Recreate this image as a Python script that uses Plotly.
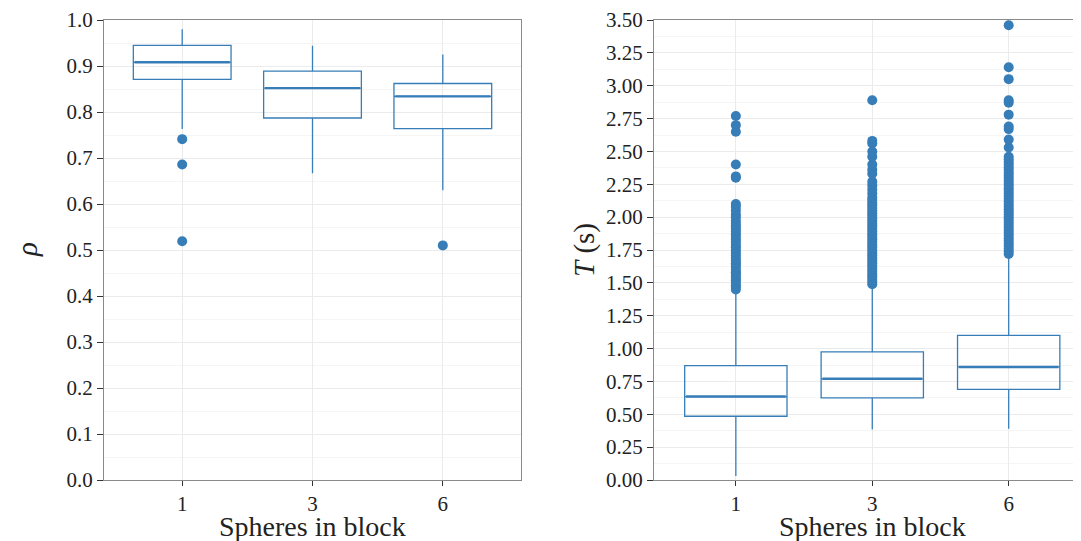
import plotly.graph_objects as go

categories = ["1", "3", "6"]

# Left panel: rho
rho_q1 = [0.871, 0.787, 0.764]
rho_median = [0.908, 0.852, 0.834]
rho_q3 = [0.945, 0.889, 0.862]
rho_lower = [0.763, 0.667, 0.630]
rho_upper = [0.980, 0.944, 0.925]
rho_out_1 = [0.741, 0.686, 0.519]
rho_out_3 = []
rho_out_6 = [0.510]

# Right panel: T (s)
t_q1 = [0.485, 0.625, 0.690]
t_median = [0.635, 0.770, 0.860]
t_q3 = [0.870, 0.975, 1.100]
t_lower = [0.030, 0.385, 0.390]
t_upper = [1.440, 1.480, 1.710]
t_out_1 = [1.45, 1.47, 1.48, 1.50, 1.52, 1.53, 1.55, 1.57, 1.58, 1.60, 1.62, 1.64,
           1.65, 1.67, 1.69, 1.71, 1.73, 1.75, 1.77, 1.79, 1.81, 1.83, 1.85, 1.87,
           1.89, 1.91, 1.93, 1.95, 1.97, 2.00, 2.02, 2.05, 2.08, 2.10, 2.30, 2.31,
           2.40, 2.65, 2.70, 2.77]
t_out_3 = [1.49, 1.51, 1.53, 1.55, 1.57, 1.59, 1.61, 1.63, 1.65, 1.67, 1.69, 1.71,
           1.73, 1.75, 1.77, 1.79, 1.81, 1.83, 1.85, 1.87, 1.89, 1.91, 1.93, 1.95,
           1.97, 1.99, 2.01, 2.03, 2.05, 2.07, 2.09, 2.11, 2.13, 2.15, 2.18, 2.21,
           2.24, 2.27, 2.33, 2.36, 2.40, 2.46, 2.50, 2.56, 2.58, 2.89]
t_out_6 = [1.72, 1.74, 1.76, 1.78, 1.80, 1.82, 1.84, 1.86, 1.88, 1.90, 1.92, 1.94,
           1.96, 1.98, 2.00, 2.02, 2.04, 2.06, 2.08, 2.10, 2.12, 2.14, 2.16, 2.18,
           2.20, 2.22, 2.24, 2.26, 2.28, 2.30, 2.32, 2.34, 2.36, 2.38, 2.40, 2.42,
           2.44, 2.46, 2.53, 2.59, 2.67, 2.69, 2.78, 2.87, 2.89, 3.05, 3.14, 3.46]

x_title = "Spheres in block"
y_title_left = "<i>ρ</i>"
y_title_right = "<i>T</i> (s)"

BLUE = "#377eb8"
FONT = "Liberation Serif"

fig = go.Figure()

def add_panel(q1, med, q3, lo, hi, outs, xa, ya):
    fig.add_trace(go.Box(
        x=categories, q1=q1, median=med, q3=q3, lowerfence=lo, upperfence=hi,
        fillcolor="rgba(255,255,255,0)", line=dict(color=BLUE, width=1.3),
        whiskerwidth=0, width=0.75, boxpoints=False, showlegend=False,
        xaxis=xa, yaxis=ya, hoverinfo="skip"))
    # thicker median line
    fig.add_trace(go.Box(
        x=categories, q1=med, median=med, q3=med, lowerfence=med, upperfence=med,
        fillcolor="rgba(255,255,255,0)", line=dict(color=BLUE, width=2.4),
        whiskerwidth=0, width=0.73, boxpoints=False, showlegend=False,
        xaxis=xa, yaxis=ya, hoverinfo="skip"))
    xs, ys = [], []
    for c, o in zip(categories, outs):
        xs += [c] * len(o)
        ys += o
    fig.add_trace(go.Scatter(
        x=xs, y=ys, mode="markers", marker=dict(color=BLUE, size=10),
        showlegend=False, xaxis=xa, yaxis=ya, hoverinfo="skip"))

add_panel(rho_q1, rho_median, rho_q3, rho_lower, rho_upper,
          [rho_out_1, rho_out_3, rho_out_6], "x", "y")
add_panel(t_q1, t_median, t_q3, t_lower, t_upper,
          [t_out_1, t_out_3, t_out_6], "x2", "y2")

tickfont = dict(family=FONT, size=21, color="#222")
titlefont = dict(family=FONT, size=29, color="#222")
xtitlefont = dict(family=FONT, size=28, color="#222")
grid = "#ebebeb"
frame = "#8a8a8a"

W, H = 1073, 533  # page body has an 8px margin
xcommon = dict(type="category", categoryorder="array", categoryarray=categories,
               showgrid=True, gridcolor=grid, gridwidth=1,
               ticks="outside", ticklen=5, tickcolor="#333", tickfont=tickfont,
               showline=True, linecolor=frame, linewidth=1, mirror=True, automargin=False,
               zeroline=False)
ycommon = dict(showgrid=True, gridcolor=grid, gridwidth=1.2, automargin=False,
               ticks="outside", ticklen=6, tickcolor="#333", tickfont=tickfont,
               showline=True, linecolor=frame, linewidth=1, mirror=True, zeroline=False)

ydom = [1 - 472 / H, 1 - 12 / H]
xdom1 = [96 / W, 513 / W]
xdom2 = [646 / W, 1.0]

fig.update_layout(
    width=W, height=H, margin=dict(l=0, r=0, t=0, b=0),
    paper_bgcolor="white", plot_bgcolor="white",
    xaxis=dict(domain=xdom1, anchor="y", range=[-0.6, 2.6], **xcommon),
    yaxis=dict(domain=ydom, anchor="x", range=[0, 1.0], dtick=0.1, tickformat=".1f",
               minor=dict(showgrid=True, dtick=0.05, gridcolor="#f5f5f5"), **ycommon),
    xaxis2=dict(domain=xdom2, anchor="y2", range=[-0.6, 2.53], **xcommon),
    yaxis2=dict(domain=ydom, anchor="x2", range=[0, 3.5], dtick=0.25, tickformat=".2f",
                minor=dict(showgrid=True, dtick=0.125, gridcolor="#f5f5f5"), **ycommon),
)

ymid = (ydom[0] + ydom[1]) / 2
for xd, rng in ((xdom1, (-0.6, 2.6)), (xdom2, (-0.6, 2.53))):
    # centre the title on the middle category
    frac = (1 - rng[0]) / (rng[1] - rng[0])
    fig.add_annotation(text=x_title, xref="paper", yref="paper",
                       x=xd[0] + frac * (xd[1] - xd[0]), y=0, xanchor="center",
                       yanchor="bottom", yshift=-3, showarrow=False, font=xtitlefont)
fig.add_annotation(text=y_title_left, xref="paper", yref="paper", x=19 / W, y=ymid,
                   textangle=-90, xanchor="center", yanchor="middle", showarrow=False,
                   font=titlefont)
fig.add_annotation(text=y_title_right, xref="paper", yref="paper", x=577 / W, y=ymid,
                   textangle=-90, xanchor="center", yanchor="middle", showarrow=False,
                   font=titlefont)

fig.write_html("out.html")
